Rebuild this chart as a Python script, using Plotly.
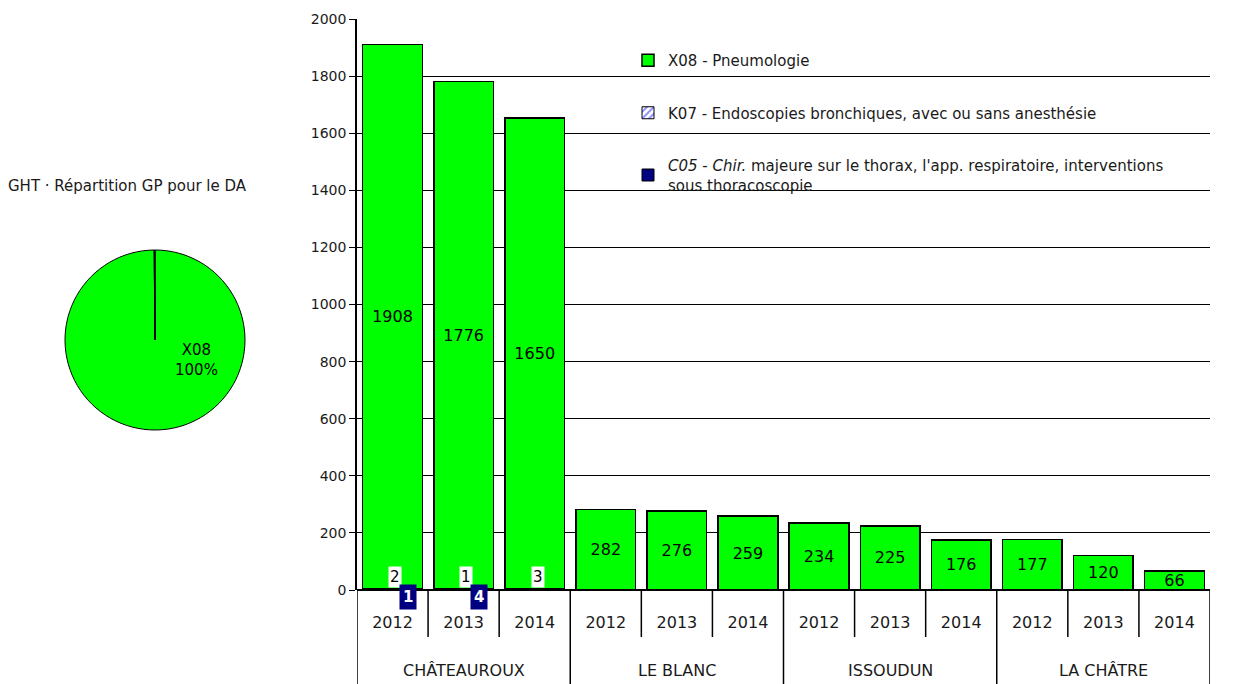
import plotly.graph_objects as go

# ---- data ----
hospitals = ["CHÂTEAUROUX", "LE BLANC", "ISSOUDUN", "LA CHÂTRE"]
years = ["2012", "2013", "2014"]
x08 = [1908, 1776, 1650, 282, 276, 259, 234, 225, 176, 177, 120, 66]
k07 = [2, 1, 3, 0, 0, 0, 0, 0, 0, 0, 0, 0]
c05 = [1, 4, 0, 0, 0, 0, 0, 0, 0, 0, 0, 0]
pie_labels = ["X08", "K07", "C05"]
pie_title = "GHT · Répartition GP pour le DA"
names = ["X08 - Pneumologie",
         "K07 - Endoscopies bronchiques, avec ou sans anesthésie",
         "<i>C05</i> - <i>Chir.</i> majeure sur le thorax, l'app. respiratoire, interventions<br>sous thoracoscopie"]

GREEN = "#00FF00"
NAVY = "#000080"
TXT = "#1a1a1a"
FONT = "DejaVu Sans"
W, H = 1243, 684
OFF = 8          # page offset of the figure inside the window
PT, PB = 19, 590  # plot area top/bottom in window pixels
PH = PB - PT


def px(xw):
    return (xw - OFF) / W


def py(yw):
    return (PB - yw) / PH


n = len(x08)
xi = list(range(n))
ticktext = [y for _ in hospitals for y in years]

fig = go.Figure()

fig.add_trace(go.Bar(x=xi, y=k07, name=names[1], legendgroup="b", legendrank=2,
                     marker=dict(color="white", line=dict(color="black", width=1),
                                 pattern=dict(shape="/", fgcolor="#1a1aff", bgcolor="white", size=6, solidity=0.4)),
                     hoverinfo="skip"))
fig.add_trace(go.Bar(x=xi, y=c05, name=names[2], legendgroup="c", legendrank=3,
                     marker=dict(color=NAVY, line=dict(color="black", width=1)),
                     hoverinfo="skip"))
fig.add_trace(go.Bar(x=xi, y=x08, name=names[0], legendgroup="a", legendrank=1,
                     marker=dict(color=GREEN, line=dict(color="black", width=1.5)),
                     text=[str(v) for v in x08], textposition="inside", insidetextanchor="middle",
                     textangle=0, constraintext="none",
                     textfont=dict(family=FONT, size=16, color="black")))

# pie
tot = [sum(x08), sum(k07), sum(c05)]
fig.add_trace(go.Pie(labels=pie_labels, values=tot, sort=False, direction="clockwise", rotation=0,
                     textinfo="none", showlegend=False, hoverinfo="skip",
                     marker=dict(colors=[GREEN, "white", NAVY], line=dict(color="black", width=1)),
                     domain=dict(x=[px(65), px(245)], y=[py(430), py(250)])))

annotations = []
# small value labels
for i in xi:
    if k07[i]:
        annotations.append(dict(x=i + 0.04, y=0, xref="x", yref="y", text=str(k07[i]), showarrow=False,
                                yanchor="bottom", yshift=2, bgcolor="white",
                                font=dict(family=FONT, size=15, color="black")))
    if c05[i]:
        annotations.append(dict(x=i + 0.22, y=0, xref="x", yref="y", text="<b>%d</b>" % c05[i], showarrow=False,
                                yanchor="top", yshift=6, bgcolor=NAVY, borderpad=3,
                                font=dict(family=FONT, size=15, color="white")))
# group labels
for g, h in enumerate(hospitals):
    annotations.append(dict(x=g * 3 + 1, y=py(670), xref="x", yref="paper", text=h, showarrow=False,
                            xanchor="center", yanchor="middle", font=dict(family=FONT, size=16, color=TXT)))
# pie title and label
annotations.append(dict(x=px(6), y=py(186), xref="paper", yref="paper", text=pie_title,
                        showarrow=False, xanchor="left", yanchor="middle",
                        font=dict(family=FONT, size=15, color=TXT)))
annotations.append(dict(x=px(197), y=py(360), xref="paper", yref="paper",
                        text="%s<br>%d%%" % (pie_labels[0], round(100 * tot[0] / sum(tot))),
                        showarrow=False, xanchor="center", yanchor="middle",
                        font=dict(family=FONT, size=15, color="black")))

# separators
shapes = []
for i in range(n + 1):
    xb = i - 0.5
    full = (i % 3 == 0)
    shapes.append(dict(type="line", xref="x", yref="paper", x0=xb, x1=xb, y0=0,
                       y1=-0.25 if full else py(637), line=dict(color="black", width=1.5)))

fig.update_layout(
    width=W, height=H, paper_bgcolor="white", plot_bgcolor="white",
    margin=dict(l=0, r=0, t=PT - OFF, b=H - (PB - OFF)),
    barmode="stack", bargap=0.16,
    font=dict(family=FONT, color=TXT),
    xaxis=dict(domain=[px(357), px(1210)], range=[-0.5, n - 0.5], tickvals=xi, ticktext=ticktext,
               ticks="", showgrid=False, zeroline=False, showline=False,
               tickfont=dict(family=FONT, size=16, color=TXT), ticklabelstandoff=21),
    yaxis=dict(range=[0, 2000], dtick=200, showgrid=True, gridcolor="black", gridwidth=1,
               zeroline=True, zerolinecolor="black", zerolinewidth=1.5,
               showline=True, linecolor="black", linewidth=1.5, ticks="outside", ticklen=6,
               tickcolor="black", tickfont=dict(family=FONT, size=14, color=TXT)),
    legend=dict(x=px(628), y=py(44), xanchor="left", yanchor="top", bgcolor="rgba(0,0,0,0)",
                traceorder="grouped", tracegroupgap=30,
                font=dict(family=FONT, size=15, color=TXT)),
    annotations=annotations, shapes=shapes, showlegend=True,
)

fig.write_html("out.html")
